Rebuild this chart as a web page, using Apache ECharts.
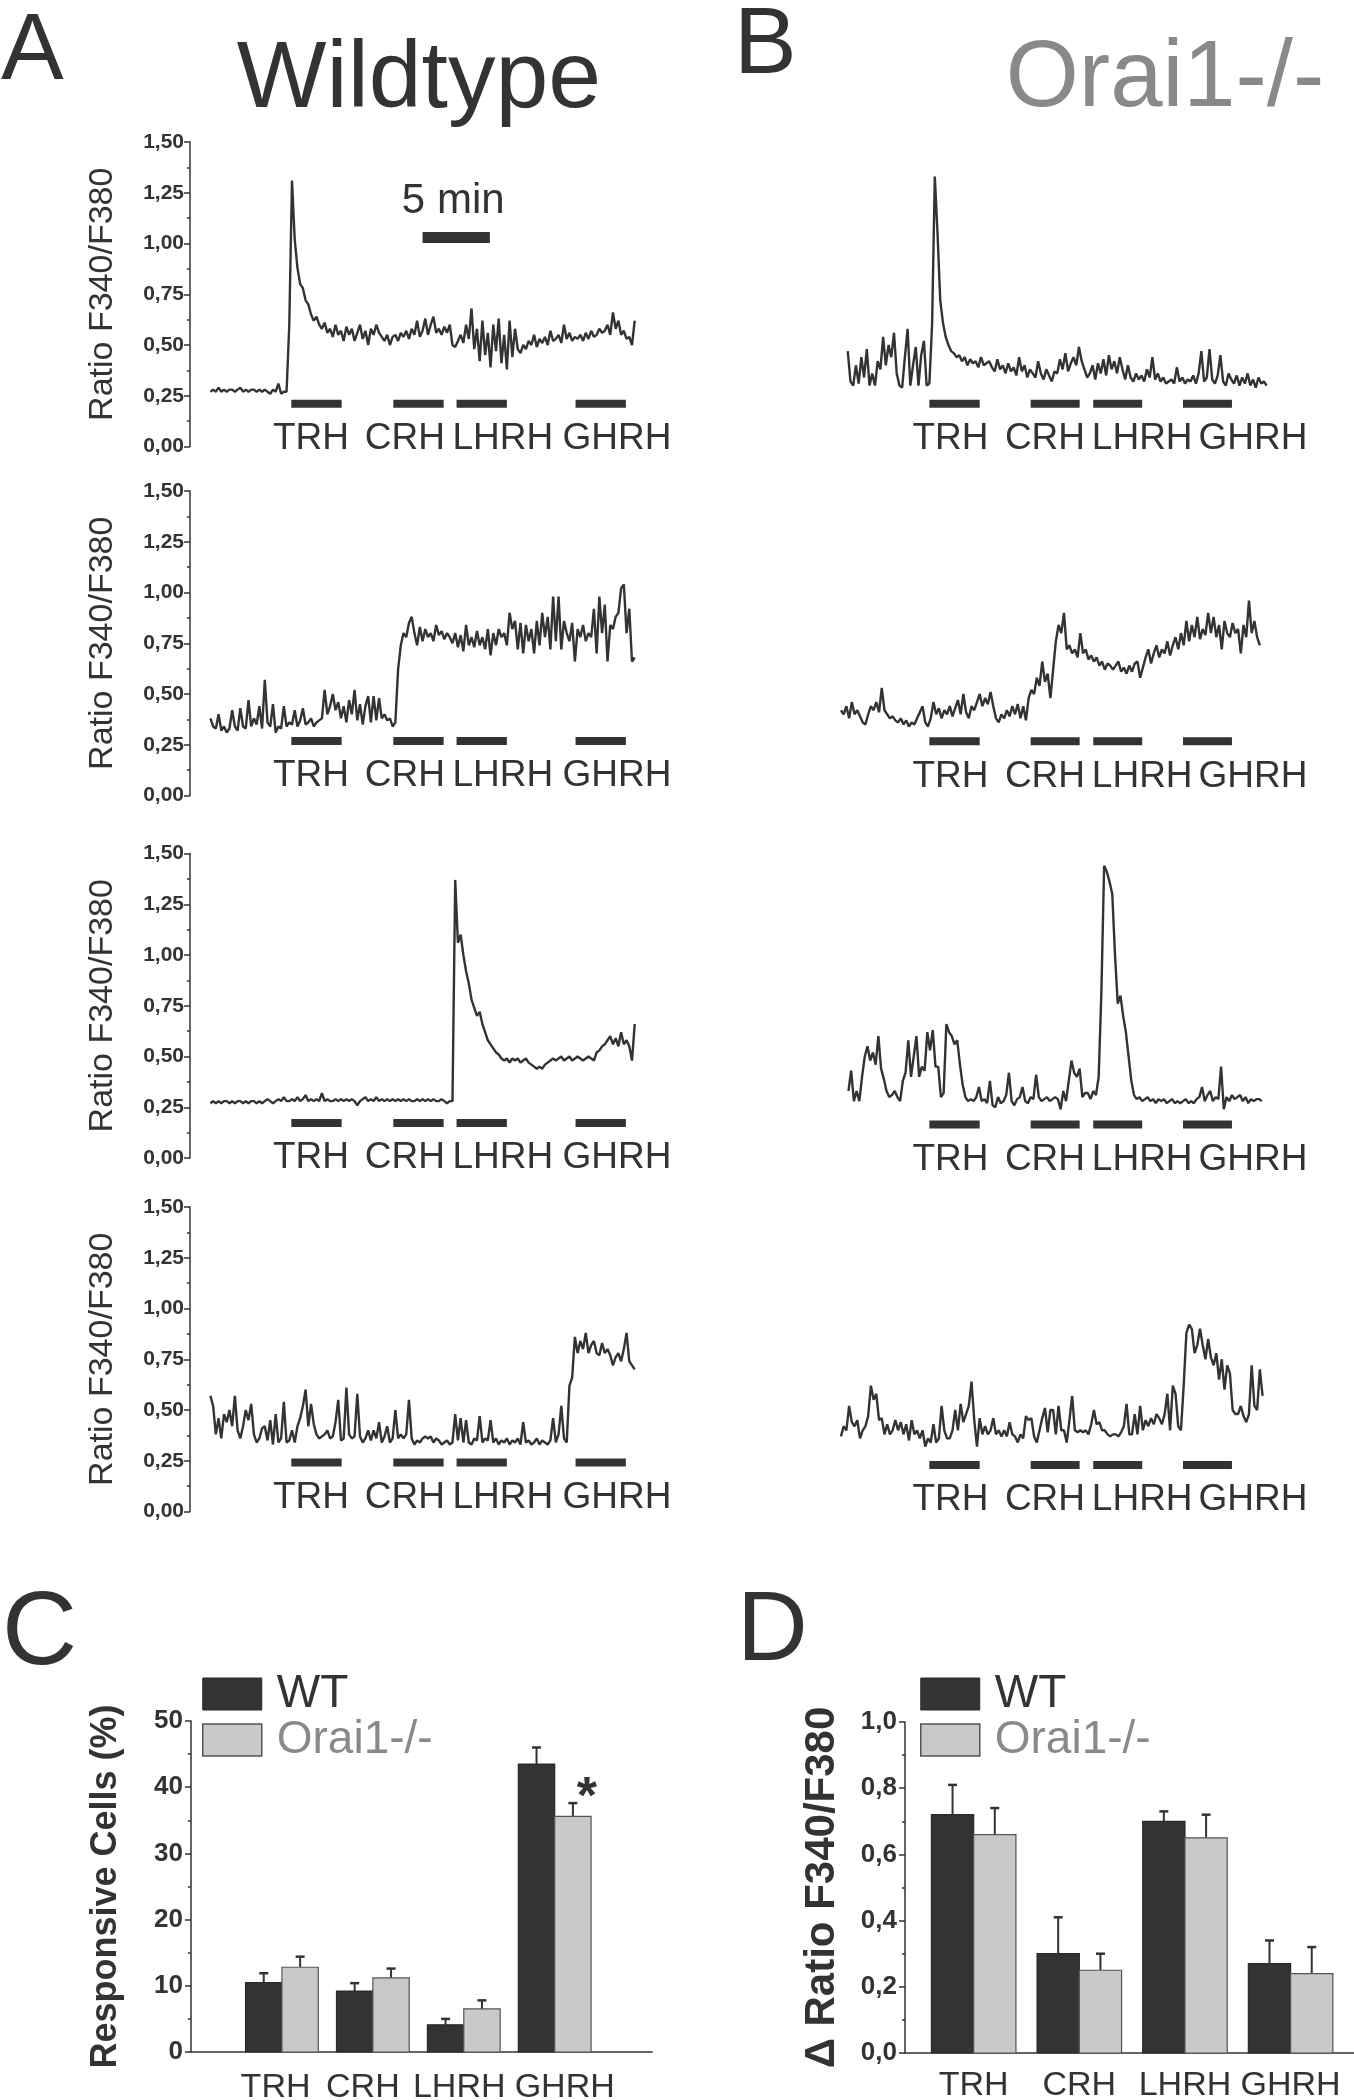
<!DOCTYPE html>
<html>
<head>
<meta charset="utf-8">
<script src="https://cdn.jsdelivr.net/npm/echarts@6/dist/echarts.min.js"></script>
<style>
html,body{margin:0;padding:0;background:#ffffff;}
#chart{width:1354px;height:2100px;}
</style>
</head>
<body>
<div id="chart"></div>
<script>
// ---------------- DATA ----------------
const SAMPLE_STEP = 0.2; // minutes between samples
const stimNames = ['TRH', 'CRH', 'LHRH', 'GHRH'];
// stimulus windows (min) for the wildtype column and the Orai1-/- column
const stimWindowsA = [[5.95, 9.65], [13.45, 17.15], [18.1, 21.8], [26.85, 30.55]];
const stimWindowsB = [[6.1, 9.8], [13.55, 17.15], [18.15, 21.75], [24.75, 28.35]];
const stimLabelAtA = [7.4, 14.3, 21.5, 29.9];
const stimLabelAtB = [7.65, 14.6, 21.75, 29.9];
const scaleBarMin = [15.6, 20.55];
const scaleBarLabel = '5 min';

// start time (min) of each trace
const traceStart = [[0, 0.1], [0, -0.4], [0, 0.15], [0, -0.4]];

const traceA1 = [0.27,0.28,0.27,0.29,0.27,0.28,0.27,0.28,0.28,0.27,
0.28,0.29,0.27,0.28,0.27,0.28,0.28,0.27,0.28,0.27,
0.28,0.27,0.26,0.28,0.27,0.31,0.26,0.27,
0.27,0.60,1.31,1.02,0.88,0.80,0.78,0.72,0.70,0.65,
0.62,0.64,0.60,0.58,0.61,0.56,0.58,0.54,0.60,0.55,
0.57,0.52,0.59,0.55,0.58,0.52,0.56,0.60,0.53,0.57,
0.50,0.58,0.55,0.60,0.56,0.54,0.52,0.55,0.50,0.54,
0.55,0.52,0.56,0.54,0.57,0.53,0.58,0.55,0.62,0.54,
0.57,0.63,0.55,0.60,0.64,0.56,0.58,0.55,0.59,0.56,
0.60,0.50,0.49,0.52,0.55,0.51,0.60,0.53,0.68,0.48,
0.58,0.42,0.62,0.45,0.56,0.39,0.60,0.47,0.63,0.41,
0.55,0.38,0.62,0.44,0.58,0.48,0.46,0.50,0.48,0.52,
0.50,0.55,0.49,0.53,0.51,0.54,0.50,0.57,0.52,0.53,
0.55,0.51,0.60,0.53,0.56,0.52,0.54,0.53,0.55,
0.52,0.56,0.53,0.57,0.54,0.55,0.58,0.56,0.57,0.60,
0.55,0.66,0.58,0.62,0.55,0.57,0.53,0.54,0.50,0.62];

const traceB1 = [0.47,0.32,0.30,0.40,0.31,0.44,0.34,0.48,0.30,0.36,
0.30,0.42,0.38,0.54,0.40,0.50,0.44,0.56,0.36,0.30,
0.29,0.44,0.58,0.30,0.40,0.49,0.30,0.45,0.52,0.30,
0.31,0.60,1.33,1.05,0.72,0.61,0.54,0.50,0.47,0.46,
0.44,0.45,0.42,0.44,0.40,0.43,0.41,0.42,0.39,0.44,
0.40,0.41,0.42,0.39,0.37,0.43,0.38,0.40,0.36,
0.41,0.37,0.39,0.35,0.44,0.37,0.40,0.34,0.38,0.36,
0.34,0.42,0.36,0.33,0.38,0.35,0.32,0.37,0.36,0.43,
0.38,0.46,0.37,0.41,0.44,0.40,0.49,0.42,0.38,0.34,
0.36,0.40,0.33,0.41,0.36,0.43,0.35,0.45,0.38,0.42,
0.36,0.44,0.38,0.33,0.40,0.34,0.32,0.36,0.33,
0.35,0.32,0.38,0.34,0.44,0.33,0.36,0.32,0.34,0.31,
0.32,0.33,0.31,0.39,0.32,0.34,0.31,0.33,0.32,0.35,
0.31,0.36,0.47,0.32,0.34,0.48,0.33,0.31,0.35,0.45,
0.32,0.30,0.36,0.33,0.31,0.35,0.30,0.34,0.31,0.36,
0.30,0.33,0.29,0.34,0.31,0.32,0.30];

const traceA2 = [0.38,0.34,0.33,0.40,0.32,0.34,0.31,0.33,0.42,0.34,
0.32,0.43,0.34,0.33,0.47,0.34,0.38,0.35,0.44,
0.33,0.57,0.36,0.34,0.45,0.31,0.34,0.33,0.44,0.34,
0.36,0.35,0.42,0.34,0.37,0.43,0.35,0.36,0.38,0.34,
0.36,0.37,0.38,0.52,0.40,0.44,0.50,0.42,0.46,0.38,
0.44,0.36,0.47,0.40,0.52,0.37,0.45,0.35,0.44,0.49,
0.36,0.49,0.37,0.48,0.38,0.40,0.37,0.38,0.34,0.36,
0.62,0.74,0.80,0.78,0.85,0.88,0.80,0.74,0.83,0.76,
0.82,0.78,0.80,0.76,0.84,0.79,0.81,0.77,0.80,0.78,
0.75,0.80,0.73,0.79,0.71,0.84,0.74,0.78,0.73,0.81,
0.74,0.78,0.72,0.82,0.69,0.80,0.74,0.82,0.78,
0.80,0.74,0.90,0.82,0.86,0.72,0.85,0.70,0.84,0.76,
0.82,0.70,0.86,0.74,0.90,0.78,0.88,0.72,0.98,0.76,
0.98,0.72,0.86,0.80,0.76,0.85,0.66,0.82,0.78,0.84,
0.76,0.80,0.78,0.92,0.70,0.98,0.80,0.94,0.66,0.84,
0.82,0.88,0.90,1.02,1.04,0.80,0.92,0.66,0.68];

const traceB2 = [0.42,0.40,0.44,0.38,0.46,0.40,0.42,0.39,0.36,0.35,
0.40,0.44,0.42,0.46,0.41,0.53,0.42,0.40,0.38,0.39,
0.37,0.36,0.38,0.35,0.37,0.34,0.36,0.35,0.38,0.41,
0.44,0.36,0.34,0.38,0.46,0.40,0.43,0.38,0.42,0.40,
0.44,0.39,0.43,0.47,0.40,0.50,0.41,0.38,0.44,0.42,
0.46,0.50,0.44,0.48,0.45,0.51,0.44,0.38,0.36,0.40,
0.38,0.42,0.39,0.44,0.40,0.45,0.38,0.44,0.37,0.48,
0.52,0.50,0.58,0.54,0.66,0.56,0.60,0.48,0.62,0.76,
0.84,0.80,0.90,0.72,0.74,0.70,0.72,0.68,0.80,0.70,
0.72,0.67,0.69,0.66,0.68,0.64,0.66,0.62,0.65,0.64,
0.62,0.64,0.66,0.61,0.63,0.60,0.64,0.61,
0.65,0.66,0.58,0.63,0.68,0.72,0.65,0.70,0.74,
0.68,0.72,0.70,0.76,0.69,0.74,0.78,0.72,0.80,0.74,
0.86,0.76,0.84,0.78,0.88,0.77,0.82,0.79,0.90,0.80,
0.88,0.78,0.84,0.72,0.86,0.80,0.78,0.85,0.80,
0.82,0.70,0.84,0.78,0.96,0.80,0.86,0.78,0.74];

const traceA3 = [0.27,0.28,0.27,0.28,0.27,0.28,0.28,0.27,0.28,0.27,
0.28,0.28,0.27,0.28,0.27,0.28,0.28,0.27,0.28,
0.27,0.28,0.29,0.28,0.27,0.28,0.29,0.28,0.30,0.28,
0.28,0.29,0.28,0.30,0.28,0.29,0.31,0.28,0.29,0.28,
0.29,0.28,0.32,0.28,0.29,0.28,0.28,0.29,0.28,0.29,
0.28,0.29,0.28,0.29,0.28,0.26,0.28,0.29,0.30,0.28,
0.29,0.28,0.30,0.28,0.29,0.28,0.29,0.28,0.29,0.28,
0.29,0.28,0.29,0.28,0.29,0.28,0.28,0.29,0.28,
0.29,0.28,0.29,0.28,0.29,0.28,0.28,0.29,0.28,0.27,
0.28,0.28,1.37,1.06,1.10,1.00,0.92,0.86,0.78,0.74,
0.70,0.72,0.66,0.62,0.58,0.56,0.54,0.52,0.51,0.49,
0.48,0.49,0.47,0.49,0.48,0.49,0.47,0.48,0.49,0.47,
0.46,0.45,0.44,0.45,0.44,0.46,0.47,0.48,0.49,0.48,
0.49,0.50,0.48,0.49,0.50,0.48,0.49,0.50,0.49,0.48,
0.49,0.50,0.49,0.48,0.52,0.53,0.55,0.56,0.58,0.60,
0.56,0.59,0.55,0.62,0.56,0.58,0.55,0.48,0.66];

const traceB3 = [0.33,0.43,0.28,0.33,0.28,0.40,0.50,0.55,0.48,0.52,
0.46,0.60,0.44,0.39,0.33,0.30,0.31,0.33,0.30,0.28,
0.38,0.42,0.58,0.40,0.50,0.60,0.40,0.45,0.43,0.62,
0.53,0.63,0.45,0.45,0.30,0.32,0.66,0.62,0.60,0.56,
0.58,0.46,0.36,0.30,0.28,0.29,0.28,0.30,0.35,0.28,
0.29,0.27,0.38,0.26,0.25,0.30,0.27,0.28,0.31,0.42,
0.28,0.26,0.29,0.30,0.35,0.28,0.27,0.30,0.29,0.41,
0.30,0.28,0.29,0.30,0.28,0.29,0.30,0.29,
0.24,0.33,0.28,0.38,0.48,0.42,0.40,0.44,0.30,0.32,
0.32,0.29,0.33,0.31,0.40,0.82,1.44,1.41,1.36,1.30,
1.00,0.76,0.80,0.70,0.62,0.50,0.38,0.31,0.29,0.30,
0.28,0.29,0.30,0.28,0.29,0.27,0.29,0.28,0.29,0.27,
0.28,0.29,0.27,0.28,0.27,0.28,0.29,0.27,
0.28,0.27,0.29,0.30,0.35,0.28,0.31,0.33,0.28,0.30,
0.29,0.45,0.24,0.30,0.28,0.31,0.29,0.30,0.31,0.28,
0.30,0.27,0.29,0.28,0.29,0.29,0.28];

const traceA4 = [0.57,0.52,0.38,0.46,0.36,0.48,0.44,0.50,0.42,0.57,
0.40,0.36,0.42,0.50,0.45,0.53,0.38,0.34,0.36,0.41,
0.42,0.35,0.45,0.33,0.48,0.34,0.36,0.54,0.34,0.35,
0.40,0.34,0.42,0.46,0.52,0.60,0.42,0.53,0.43,0.38,
0.36,0.37,0.38,0.40,0.36,0.37,0.44,0.55,0.35,0.36,
0.61,0.38,0.36,0.37,0.58,0.37,0.34,0.36,0.40,0.35,
0.40,0.36,0.44,0.34,0.37,0.42,0.34,0.36,0.50,0.36,
0.38,0.36,0.38,0.55,0.36,0.33,0.35,0.34,0.36,0.37,
0.36,0.37,0.34,0.36,0.35,0.33,0.34,0.35,0.33,
0.34,0.48,0.35,0.46,0.34,0.45,0.34,0.33,0.36,0.35,
0.47,0.34,0.36,0.35,0.45,0.34,0.36,0.33,0.35,0.34,
0.36,0.33,0.35,0.34,0.36,0.33,0.44,0.34,0.35,0.33,
0.34,0.36,0.33,0.35,0.34,0.33,0.35,0.46,0.34,0.38,
0.52,0.36,0.34,0.62,0.66,0.86,0.78,0.84,0.80,0.88,
0.78,0.82,0.84,0.78,0.77,0.83,0.78,0.80,
0.77,0.72,0.76,0.78,0.74,0.80,0.88,0.74,0.72,0.70];

const traceB4 = [0.37,0.42,0.40,0.52,0.44,0.42,0.45,0.36,0.40,0.42,
0.47,0.62,0.55,0.58,0.45,0.46,0.38,0.43,0.38,0.40,
0.45,0.40,0.44,0.38,0.43,0.35,0.45,0.38,0.40,0.36,
0.40,0.32,0.36,0.34,0.43,0.34,0.36,0.52,0.40,0.36,
0.36,0.40,0.50,0.40,0.53,0.44,0.48,0.52,0.64,0.45,
0.32,0.46,0.38,0.42,0.38,0.40,0.46,0.38,0.40,0.37,
0.40,0.37,0.44,0.38,0.37,0.34,0.38,0.36,
0.47,0.45,0.46,0.37,0.34,0.40,0.46,0.51,0.39,0.50,
0.50,0.38,0.52,0.40,0.40,0.34,0.45,0.57,0.40,0.39,
0.40,0.39,0.40,0.38,0.43,0.50,0.43,0.44,0.40,0.40,
0.38,0.37,0.38,0.38,0.37,0.39,0.42,0.53,0.38,
0.38,0.48,0.38,0.52,0.40,0.45,0.42,0.46,0.43,0.48,
0.46,0.43,0.48,0.58,0.40,0.62,0.58,0.42,0.40,0.62,
0.88,0.92,0.90,0.78,0.82,0.90,0.82,0.75,0.85,0.76,
0.72,0.78,0.65,0.75,0.60,0.72,0.68,0.50,0.48,
0.48,0.52,0.47,0.44,0.48,0.72,0.52,0.50,0.70,0.57];

// Panel C: responsive cells (%)
const cats = ['TRH', 'CRH', 'LHRH', 'GHRH'];
const catLabelAtC = [-0.07, 0.89, 1.95, 3.11];
const respWT = [10.5, 9.2, 4.1, 43.5];
const respWTErr = [1.4, 1.2, 0.9, 2.5];
const respOrai = [12.8, 11.2, 6.5, 35.6];
const respOraiErr = [1.6, 1.4, 1.3, 2.0];
const respOraiSig = ['', '', '', '*'];
// Panel D: delta ratio
const ratioWT = [0.72, 0.30, 0.70, 0.27];
const ratioWTErr = [0.09, 0.11, 0.03, 0.07];
const ratioOrai = [0.66, 0.25, 0.65, 0.24];
const ratioOraiErr = [0.08, 0.05, 0.07, 0.08];

// ---------------- LAYOUT / STYLE ----------------
const FONT = '"Liberation Sans", Arial, Helvetica, sans-serif';
const INK = '#333333';
const GREY_TXT = '#898989';
const LIGHT_FILL = '#c9c9c9';
const ROW_TOP = [142, 491, 853.5, 1207];
const ROW_H = 304.5;
const COL_LEFT = [190, 826];
const COL_W = 469.2;
const X_MIN = -1.5, X_MAX = 33;
const STIM_LEVEL = [[0.21, 0.21], [0.268, 0.267], [0.172, 0.165], [0.241, 0.229]];
const SCALE_LEVEL = 1.03;
const BAR_W = 0.4;

const traces = [[traceA1, traceB1], [traceA2, traceB2], [traceA3, traceB3], [traceA4, traceB4]];
const stimWindows = [stimWindowsA, stimWindowsB];
const stimLabelAt = [stimLabelAtA, stimLabelAtB];

const comma = (v, d) => v.toFixed(d).replace('.', ',');

function makeStimRender(level) {
  return function (params, api) {
    const a = api.coord([api.value(0), level]);
    const b = api.coord([api.value(1), level]);
    const l = api.coord([api.value(2), level]);
    return {
      type: 'group',
      children: [
        { type: 'rect', shape: { x: a[0], y: a[1] - 4, width: b[0] - a[0], height: 8 }, style: { fill: INK } },
        { type: 'text', x: l[0], y: a[1] + 35,
          style: { text: stimNames[params.dataIndex], fill: INK, font: '37px ' + FONT, align: 'center', verticalAlign: 'middle' } }
      ]
    };
  };
}

function makeBarRender(offset, fill, stroke, marks) {
  return function (params, api) {
    const i = api.value(0), v = api.value(1), e = api.value(2);
    const lo = api.coord([i + offset, 0]);
    const hi = api.coord([i + offset + BAR_W, v]);
    const cx = (lo[0] + hi[0]) / 2;
    const top = api.coord([i, v + e])[1];
    const children = [
      { type: 'line', shape: { x1: cx, y1: hi[1], x2: cx, y2: top }, style: { stroke: INK, lineWidth: 2 } },
      { type: 'line', shape: { x1: cx - 4.5, y1: top, x2: cx + 4.5, y2: top }, style: { stroke: INK, lineWidth: 2.5 } },
      { type: 'rect', shape: { x: lo[0], y: hi[1], width: hi[0] - lo[0], height: lo[1] - hi[1] },
        style: { fill: fill, stroke: stroke, lineWidth: 1.2 } }
    ];
    if (marks && marks[params.dataIndex]) {
      children.push({ type: 'text', x: cx + 14, y: top - 4,
        style: { text: marks[params.dataIndex], font: 'bold 52px ' + FONT, fill: INK, align: 'center', verticalAlign: 'middle' } });
    }
    return { type: 'group', children: children };
  };
}

const grids = [], xAxes = [], yAxes = [], series = [];

for (let r = 0; r < 4; r++) {
  for (let c = 0; c < 2; c++) {
    const gi = grids.length;
    grids.push({ left: COL_LEFT[c], top: ROW_TOP[r], width: COL_W, height: ROW_H, outerBoundsMode: 'none', containLabel: false });
    xAxes.push({ gridIndex: gi, type: 'value', min: X_MIN, max: X_MAX, show: false });
    yAxes.push({
      gridIndex: gi, type: 'value', min: 0, max: 1.5, interval: 0.25, show: c === 0,
      axisLine: { show: true, onZero: false, lineStyle: { color: INK, width: 1.5 } },
      axisTick: { show: true, length: 6, lineStyle: { color: INK, width: 1.5 } },
      minorTick: { show: true, splitNumber: 2, length: 3, lineStyle: { color: INK, width: 1.5 } },
      splitLine: { show: false },
      axisLabel: { formatter: v => comma(v, 2), fontSize: 21, fontWeight: 'bold', color: INK, margin: 6, fontFamily: FONT },
      name: 'Ratio F340/F380', nameLocation: 'middle', nameGap: 70,
      nameTextStyle: { fontSize: 34, color: INK, fontFamily: FONT }
    });
    const t0 = traceStart[r][c];
    series.push({
      type: 'line', xAxisIndex: gi, yAxisIndex: gi, silent: true,
      data: traces[r][c].map((v, i) => [t0 + i * SAMPLE_STEP, v]),
      showSymbol: false, symbol: 'none',
      lineStyle: { color: INK, width: 2.4 }, itemStyle: { color: INK }
    });
    series.push({
      type: 'custom', xAxisIndex: gi, yAxisIndex: gi, silent: true,
      data: stimWindows[c].map((w, k) => [w[0], w[1], stimLabelAt[c][k]]),
      renderItem: makeStimRender(STIM_LEVEL[r][c])
    });
  }
}

// 5 min scale bar on the first wildtype trace
series.push({
  type: 'custom', xAxisIndex: 0, yAxisIndex: 0, silent: true,
  data: [[scaleBarMin[0], scaleBarMin[1]]],
  renderItem: function (params, api) {
    const a = api.coord([api.value(0), SCALE_LEVEL]);
    const b = api.coord([api.value(1), SCALE_LEVEL]);
    return {
      type: 'group',
      children: [
        { type: 'rect', shape: { x: a[0], y: a[1] - 5.5, width: b[0] - a[0], height: 11 }, style: { fill: INK } },
        { type: 'text', x: (a[0] + b[0]) / 2 - 3, y: a[1] - 36,
          style: { text: scaleBarLabel, fill: INK, font: '42px ' + FONT, align: 'center', verticalAlign: 'middle' } }
      ]
    };
  }
});

// Panel C grid (index 8)
grids.push({ left: 191, top: 1721, width: 461, height: 331, outerBoundsMode: 'none', containLabel: false });
xAxes.push({
  gridIndex: 8, type: 'value', min: -1, max: 4.07,
  axisLine: { show: true, onZero: false, lineStyle: { color: INK, width: 1.5 } },
  axisTick: { show: false }, splitLine: { show: false }, axisLabel: { show: false }
});
yAxes.push({
  gridIndex: 8, type: 'value', min: 0, max: 50, interval: 10,
  axisLine: { show: true, onZero: false, lineStyle: { color: INK, width: 1.5 } },
  axisTick: { show: true, length: 6, lineStyle: { color: INK, width: 1.5 } },
  minorTick: { show: true, splitNumber: 2, length: 3, lineStyle: { color: INK, width: 1.5 } },
  splitLine: { show: false },
  axisLabel: { fontSize: 26, fontWeight: 'bold', color: INK, margin: 8, fontFamily: FONT },
  name: 'Responsive Cells (%)', nameLocation: 'middle', nameGap: 67,
  nameTextStyle: { fontSize: 36, fontWeight: 'bold', color: INK, fontFamily: FONT }
});
// Panel D grid (index 9)
grids.push({ left: 905, top: 1722, width: 449, height: 331, outerBoundsMode: 'none', containLabel: false });
xAxes.push({
  gridIndex: 9, type: 'value', min: -0.65, max: 3.6,
  axisLine: { show: true, onZero: false, lineStyle: { color: INK, width: 1.5 } },
  axisTick: { show: false }, splitLine: { show: false },
  axisLabel: { customValues: [0, 1, 2, 3], formatter: v => cats[Math.round(v)], hideOverlap: false,
    fontSize: 34, color: INK, margin: 16, fontFamily: FONT }
});
yAxes.push({
  gridIndex: 9, type: 'value', min: 0, max: 1, interval: 0.2,
  axisLine: { show: true, onZero: false, lineStyle: { color: INK, width: 1.5 } },
  axisTick: { show: true, length: 6, lineStyle: { color: INK, width: 1.5 } },
  minorTick: { show: true, splitNumber: 2, length: 3, lineStyle: { color: INK, width: 1.5 } },
  splitLine: { show: false },
  axisLabel: { formatter: v => comma(v, 1), fontSize: 26, fontWeight: 'bold', color: INK, margin: 8, fontFamily: FONT },
  name: '\u0394 Ratio F340/F380', nameLocation: 'middle', nameGap: 62,
  nameTextStyle: { fontSize: 42, fontWeight: 'bold', color: INK, fontFamily: FONT }
});

series.push({
  name: 'WT', type: 'custom', xAxisIndex: 8, yAxisIndex: 8, silent: true,
  itemStyle: { color: INK },
  data: respWT.map((v, i) => [i, v, respWTErr[i]]),
  renderItem: makeBarRender(-BAR_W, INK, '#2a2a2a', null)
});
series.push({
  name: 'Orai1-/-', type: 'custom', xAxisIndex: 8, yAxisIndex: 8, silent: true,
  itemStyle: { color: LIGHT_FILL },
  data: respOrai.map((v, i) => [i, v, respOraiErr[i]]),
  renderItem: makeBarRender(0, LIGHT_FILL, '#555555', respOraiSig)
});
// category labels of panel C (placed through the panel's x scale)
series.push({
  type: 'custom', xAxisIndex: 8, yAxisIndex: 8, silent: true,
  data: catLabelAtC.map(x => [x, 0]),
  renderItem: function (params, api) {
    const p = api.coord([api.value(0), 0]);
    return { type: 'text', x: p[0], y: p[1] + 36,
      style: { text: cats[params.dataIndex], fill: INK, font: '34px ' + FONT, align: 'center', verticalAlign: 'middle' } };
  }
});
series.push({
  name: 'WT', type: 'custom', xAxisIndex: 9, yAxisIndex: 9, silent: true,
  itemStyle: { color: INK },
  data: ratioWT.map((v, i) => [i, v, ratioWTErr[i]]),
  renderItem: makeBarRender(-BAR_W, INK, '#2a2a2a', null)
});
series.push({
  name: 'Orai1-/-', type: 'custom', xAxisIndex: 9, yAxisIndex: 9, silent: true,
  itemStyle: { color: LIGHT_FILL },
  data: ratioOrai.map((v, i) => [i, v, ratioOraiErr[i]]),
  renderItem: makeBarRender(0, LIGHT_FILL, '#555555', null)
});

function legendAt(left) {
  return {
    left: left, top: 1666, orient: 'vertical', icon: 'rect',
    itemWidth: 59, itemHeight: 32, itemGap: 0, selectedMode: false,
    textStyle: { fontSize: 46, lineHeight: 46, fontFamily: FONT, padding: [0, 0, 0, 10] },
    data: [
      { name: 'WT', itemStyle: { color: INK, borderColor: '#2a2a2a', borderWidth: 1 }, textStyle: { color: INK } },
      { name: 'Orai1-/-', itemStyle: { color: LIGHT_FILL, borderColor: '#555555', borderWidth: 1.5 }, textStyle: { color: GREY_TXT } }
    ]
  };
}

const titleText = (text, x, y, size, color, align) => ({
  type: 'text', x: x, y: y, silent: true,
  style: { text: text, font: size + 'px ' + FONT, fill: color, align: align || 'left', verticalAlign: 'middle' }
});

const option = {
  animation: false,
  backgroundColor: '#ffffff',
  grid: grids,
  xAxis: xAxes,
  yAxis: yAxes,
  legend: [legendAt(197), legendAt(915)],
  series: series,
  graphic: [
    titleText('A', 1, 53, 94, INK),
    titleText('Wildtype', 419, 81, 95, INK, 'center'),
    titleText('B', 734, 47, 94, INK),
    titleText('Orai1-/-', 1165, 80, 94, GREY_TXT, 'center'),
    titleText('C', 2, 1635, 104, INK),
    titleText('D', 737, 1633, 98, INK)
  ]
};

const chart = echarts.init(document.getElementById('chart'), null, { renderer: 'canvas', width: 1354, height: 2100 });
chart.setOption(option);
</script>
</body>
</html>
